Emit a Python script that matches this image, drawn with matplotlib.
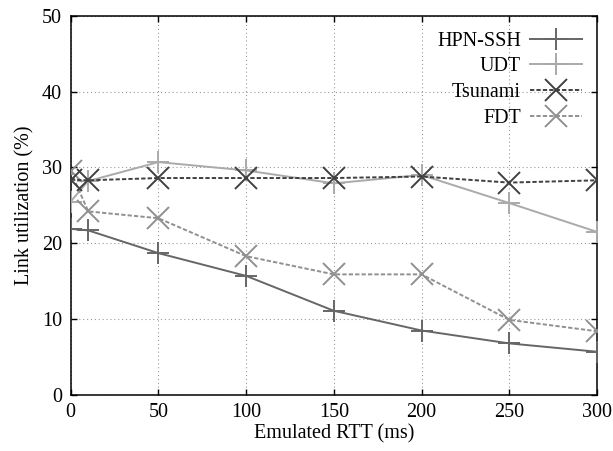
import matplotlib
matplotlib.use("Agg")
import matplotlib.pyplot as plt

plt.rcParams['font.family'] = ['Liberation Serif', 'DejaVu Serif']

rtt = [0, 10, 50, 100, 150, 200, 250, 300]
hpn_ssh = [21.9, 21.7, 18.7, 15.7, 11.1, 8.5, 6.8, 5.7]
udt = [25.5, 28.2, 30.7, 29.6, 27.9, 29.0, 25.3, 21.5]
tsunami = [28.4, 28.3, 28.6, 28.6, 28.6, 28.8, 28.0, 28.3]
fdt = [29.5, 24.2, 23.3, 18.3, 15.9, 15.9, 9.9, 8.4]

x_ticks = [0, 50, 100, 150, 200, 250, 300]
y_ticks = [0, 10, 20, 30, 40, 50]

FS = 14.5
DASH = (0, (2.2, 1.1))

fig = plt.figure(figsize=(6.13, 4.51), dpi=100)
ax = fig.add_axes([0.1153, 0.1242, 0.8586, 0.841])

ax.plot(rtt, hpn_ssh, color='#666666', lw=1.4, ls='-', marker='+',
        ms=16, mew=1.4, label='HPN-SSH', zorder=4)
ax.plot(rtt, udt, color='#aaaaaa', lw=1.4, ls='-', marker='+',
        ms=16, mew=1.4, label='UDT', zorder=3)
ax.plot(rtt, tsunami, color='#404040', lw=1.4, ls=DASH, marker='x',
        ms=16, mew=1.4, label='Tsunami', zorder=5)
ax.plot(rtt, fdt, color='#909090', lw=1.4, ls=DASH, marker='x',
        ms=16, mew=1.4, label='FDT', zorder=4)

ax.set_xlim(0, 300)
ax.set_ylim(0, 50)
ax.set_xticks(x_ticks)
ax.set_yticks(y_ticks)
ax.grid(True, ls=(0, (1, 2.5)), color='#999999', lw=0.8)
ax.tick_params(direction='in', top=True, right=True, length=4,
               width=1.0, labelsize=FS)
ax.tick_params(axis='y', pad=6.3)
ax.tick_params(axis='x', pad=5.5)
for s in ax.spines.values():
    s.set_linewidth(1.1)

ax.set_xlabel('Emulated RTT (ms)', fontsize=FS, labelpad=2)
ax.set_ylabel('Link utilization (%)', fontsize=FS, labelpad=5)

ax.legend(loc='upper right', frameon=False, markerfirst=False,
          fontsize=FS, handlelength=2.6, handletextpad=0.45,
          labelspacing=0.33, bbox_to_anchor=(0.995, 0.99),
          borderaxespad=0.2)

fig.savefig('out.png', dpi=100)
